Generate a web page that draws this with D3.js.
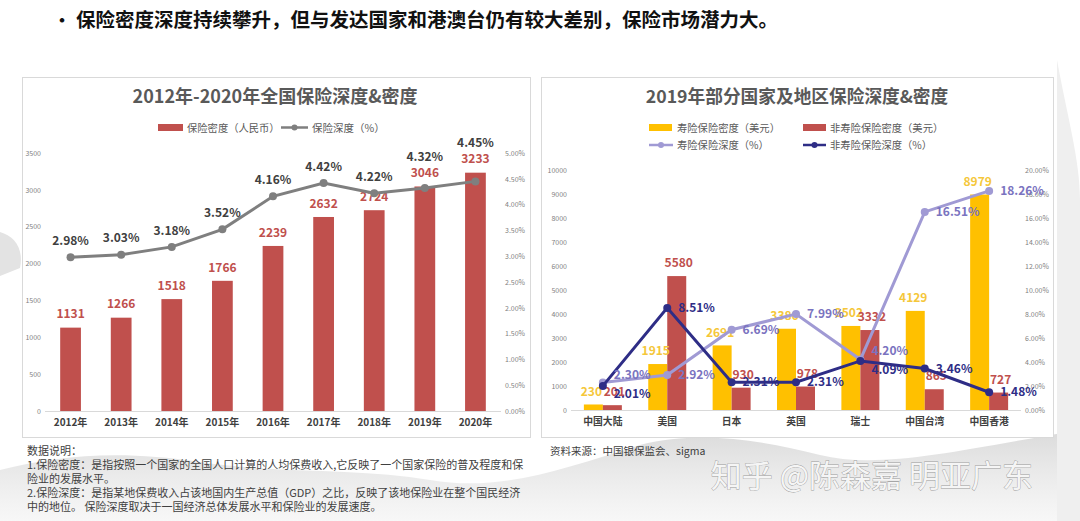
<!DOCTYPE html>
<html><head><meta charset="utf-8">
<script src="https://cdn.jsdelivr.net/npm/d3@7"></script>
<style>
html,body{margin:0;padding:0;background:#fff;}
svg{display:block;font-family:"Noto Sans CJK SC","Noto Sans",sans-serif;}
</style></head>
<body>
<svg id="chart" width="1080" height="521"></svg>
<script>
// ---------- data ----------
const years = ["2012年","2013年","2014年","2015年","2016年","2017年","2018年","2019年","2020年"];
const densityCNY = [1131,1266,1518,1766,2239,2632,2724,3046,3233];
const depthPct = [2.98,3.03,3.18,3.52,4.16,4.42,4.22,4.32,4.45];
const leftTicks = [0,500,1000,1500,2000,2500,3000,3500];
const leftPctTicks = [0,0.5,1,1.5,2,2.5,3,3.5,4,4.5,5];

const regions = ["中国大陆","美国","日本","英国","瑞士","中国台湾","中国香港"];
const lifeDensity = [230,1915,2691,3386,3502,4129,8979];
const nonLifeDensity = [201,5580,930,978,3332,865,727];
const lifeDepth = [2.30,2.92,6.69,7.99,4.20,16.51,18.26];
const nonLifeDepth = [2.01,8.51,2.31,2.31,4.09,3.46,1.48];
const rightTicks = [0,1000,2000,3000,4000,5000,6000,7000,8000,9000,10000];
const rightPctTicks = [0,2,4,6,8,10,12,14,16,18,20];

const headline = "保险密度深度持续攀升，但与发达国家和港澳台仍有较大差别，保险市场潜力大。";
const leftTitle = "2012年-2020年全国保险深度&密度";
const rightTitle = "2019年部分国家及地区保险深度&密度";
const leftLegend = ["保险密度（人民币）","保险深度（%）"];
const rightLegend = ["寿险保险密度（美元）","非寿险保险密度（美元）","寿险保险深度（%）","非寿险保险深度（%）"];
const noteLines = ["数据说明：",
 "1.保险密度：是指按照一个国家的全国人口计算的人均保费收入,它反映了一个国家保险的普及程度和保",
 "险业的发展水平。",
 "2.保险深度：是指某地保费收入占该地国内生产总值（GDP）之比，反映了该地保险业在整个国民经济",
 "中的地位。 保险深度取决于一国经济总体发展水平和保险业的发展速度。"];
const sourceText = "资料来源：中国银保监会、sigma";
const watermark = "知乎 @陈森嘉 明亚广东";

// ---------- styles ----------
const RED = "#c0504d", YEL = "#ffc000", GRAY_LINE = "#7f7f7f";
const LIFE_LINE = "#a09ad4", NONLIFE_LINE = "#2e2d86";
const FONT = "\"Noto Sans CJK SC\",\"Noto Sans\",sans-serif";
const svg = d3.select("#chart");

// background wash
const defs = svg.append("defs");
const g1 = defs.append("linearGradient").attr("id","mt").attr("x1",0).attr("y1",0).attr("x2",0).attr("y2",1);
g1.append("stop").attr("offset","0%").attr("stop-color","#d6d6d6").attr("stop-opacity",0.9);
g1.append("stop").attr("offset","100%").attr("stop-color","#f2f2f2").attr("stop-opacity",0.6);
const bg = svg.append("g");
bg.append("path").attr("d","M0,470 C60,455 120,450 200,462 C280,474 360,468 430,480 C500,492 560,470 640,445 C700,430 760,440 820,455 C880,470 960,450 1080,430 L1080,521 L0,521 Z").attr("fill","url(#mt)");
bg.append("path").attr("d","M0,232 C14,236 24,248 20,268 L0,276 Z").attr("fill","#e3e3e3");
bg.append("path").attr("d","M1057,60 C1068,120 1080,160 1080,200 L1080,521 L1057,521 Z").attr("fill","#efefef");

// headline
svg.append("text").attr("x",53).attr("y",27).attr("font-size",18).attr("font-weight","bold").attr("fill","#111").text("•");
svg.append("text").attr("x",76).attr("y",27).attr("font-size",19.5).attr("font-weight","bold").attr("fill","#111").text(headline);

// panels
svg.append("rect").attr("x",22.5).attr("y",77.5).attr("width",508).attr("height",360).attr("fill","#fff").attr("stroke","#d9d9d9");
svg.append("rect").attr("x",541.5).attr("y",77.5).attr("width",512).attr("height",360).attr("fill","#fff").attr("stroke","#d9d9d9");

function styleAxis(g, size, color, weight){
  g.select(".domain").remove();
  g.selectAll("text").attr("font-size",size).attr("fill",color).attr("font-weight",weight||"normal").attr("font-family",FONT);
}
const intFmt = d3.format("d");

// ================= LEFT CHART =================
{
  const L = svg.append("g");
  L.append("text").attr("x",275).attr("y",103).attr("text-anchor","middle").attr("font-size",18).attr("font-weight","bold").attr("fill","#595959").text(leftTitle);
  // legend
  L.append("rect").attr("x",158).attr("y",124).attr("width",25).attr("height",7).attr("fill",RED);
  L.append("text").attr("x",187).attr("y",131.5).attr("font-size",10.3).attr("fill","#595959").text(leftLegend[0]);
  L.append("line").attr("x1",281).attr("x2",308).attr("y1",127.5).attr("y2",127.5).attr("stroke",GRAY_LINE).attr("stroke-width",2.5);
  L.append("circle").attr("cx",294.5).attr("cy",127.5).attr("r",3).attr("fill",GRAY_LINE);
  L.append("text").attr("x",312).attr("y",131.5).attr("font-size",10.5).attr("fill","#595959").text(leftLegend[1]);

  const x = d3.scaleBand().domain(years).range([45,501]).paddingInner(0.59).paddingOuter(0.3);
  const y = d3.scaleLinear().domain([0,3500]).range([411,153]);
  const yP = d3.scaleLinear().domain([0,5]).range([411,153]);

  L.append("line").attr("x1",45).attr("x2",501).attr("y1",411.5).attr("y2",411.5).attr("stroke","#d9d9d9");
  styleAxis(L.append("g").attr("transform","translate(45,0)").call(d3.axisLeft(y).tickValues(leftTicks).tickSize(0).tickPadding(4).tickFormat(intFmt)), 7, "#7f7f7f");
  styleAxis(L.append("g").attr("transform","translate(501,0)").call(d3.axisRight(yP).tickValues(leftPctTicks).tickSize(0).tickPadding(4).tickFormat(d=>d.toFixed(2)+"%")), 7, "#7f7f7f");
  styleAxis(L.append("g").attr("transform","translate(0,411)").call(d3.axisBottom(x).tickSize(0).tickPadding(8)), 10, "#404040", "bold");

  L.selectAll(".bar").data(densityCNY).join("rect").attr("class","bar")
    .attr("x",(d,i)=>x(years[i])).attr("width",x.bandwidth())
    .attr("y",d=>y(d)).attr("height",d=>y(0)-y(d)).attr("fill",RED);
  const barLabY = d=>y(d)-13.5;
  L.selectAll(".bl").data(densityCNY).join("text").attr("class","bl")
    .attr("x",(d,i)=>x(years[i])+x.bandwidth()/2).attr("y",barLabY).attr("dy","0.35em")
    .attr("text-anchor","middle").attr("font-size",12).attr("font-weight","bold").attr("fill",RED).text(d=>d);

  const cx = (i)=>x(years[i])+x.bandwidth()/2;
  const line = d3.line().x((d,i)=>cx(i)).y(d=>yP(d));
  L.append("path").datum(depthPct).attr("d",line).attr("fill","none").attr("stroke",GRAY_LINE).attr("stroke-width",3);
  L.selectAll(".pt").data(depthPct).join("circle").attr("class","pt").attr("cx",(d,i)=>cx(i)).attr("cy",d=>yP(d)).attr("r",4).attr("fill",GRAY_LINE);
  // percent label above point; lifted above the bar label when they would collide
  L.selectAll(".pl").data(depthPct).join("text").attr("class","pl")
    .attr("x",(d,i)=>cx(i)).attr("y",(d,i)=>Math.min(yP(d)-16.5, barLabY(densityCNY[i])-16))
    .attr("dy","0.35em")
    .attr("text-anchor","middle").attr("font-size",12).attr("font-weight","bold").attr("fill","#404040").text(d=>d.toFixed(2)+"%");
}

// ================= RIGHT CHART =================
{
  const R = svg.append("g");
  R.append("text").attr("x",797).attr("y",103).attr("text-anchor","middle").attr("font-size",17.7).attr("font-weight","bold").attr("fill","#595959").text(rightTitle);
  // legend
  R.append("rect").attr("x",649).attr("y",124).attr("width",23).attr("height",7).attr("fill",YEL);
  R.append("text").attr("x",677).attr("y",131.5).attr("font-size",10.3).attr("fill","#595959").text(rightLegend[0]);
  R.append("rect").attr("x",803).attr("y",124).attr("width",23).attr("height",7).attr("fill",RED);
  R.append("text").attr("x",830).attr("y",131.5).attr("font-size",10.3).attr("fill","#595959").text(rightLegend[1]);
  R.append("line").attr("x1",649).attr("x2",673).attr("y1",145).attr("y2",145).attr("stroke",LIFE_LINE).attr("stroke-width",2.5);
  R.append("circle").attr("cx",661).attr("cy",145).attr("r",3).attr("fill",LIFE_LINE);
  R.append("text").attr("x",677).attr("y",149).attr("font-size",10.3).attr("fill","#595959").text(rightLegend[2]);
  R.append("line").attr("x1",803).attr("x2",826).attr("y1",145).attr("y2",145).attr("stroke",NONLIFE_LINE).attr("stroke-width",2.5);
  R.append("circle").attr("cx",814.5).attr("cy",145).attr("r",3).attr("fill",NONLIFE_LINE);
  R.append("text").attr("x",830).attr("y",149).attr("font-size",10.3).attr("fill","#595959").text(rightLegend[3]);

  const x = d3.scaleBand().domain(regions).range([571,1021]).paddingInner(0.41).paddingOuter(0.2);
  const x1 = d3.scaleBand().domain(["life","nonlife"]).range([0,x.bandwidth()]);
  const y = d3.scaleLinear().domain([0,10000]).range([410,170]);
  const yP = d3.scaleLinear().domain([0,20]).range([410,170]);

  R.append("line").attr("x1",571).attr("x2",1021).attr("y1",410.5).attr("y2",410.5).attr("stroke","#d9d9d9");
  styleAxis(R.append("g").attr("transform","translate(571,0)").call(d3.axisLeft(y).tickValues(rightTicks).tickSize(0).tickPadding(4).tickFormat(intFmt)), 7, "#7f7f7f");
  styleAxis(R.append("g").attr("transform","translate(1021,0)").call(d3.axisRight(yP).tickValues(rightPctTicks).tickSize(0).tickPadding(4).tickFormat(d=>d.toFixed(2)+"%")), 7, "#7f7f7f");
  styleAxis(R.append("g").attr("transform","translate(0,410)").call(d3.axisBottom(x).tickSize(0).tickPadding(8)), 9.8, "#404040", "bold");

  const series = [{key:"life",vals:lifeDensity,color:YEL,lab:"#f5c73a",shift:-2},{key:"nonlife",vals:nonLifeDensity,color:RED,lab:RED,shift:2}];
  series.forEach(s=>{
    R.selectAll(".b"+s.key).data(s.vals).join("rect").attr("class","b"+s.key)
      .attr("x",(d,i)=>x(regions[i])+x1(s.key)).attr("width",x1.bandwidth())
      .attr("y",d=>y(d)).attr("height",d=>y(0)-y(d)).attr("fill",s.color);
  });
  series.forEach(s=>{
    R.selectAll(".t"+s.key).data(s.vals).join("text").attr("class","t"+s.key)
      .attr("x",(d,i)=>x(regions[i])+x1(s.key)+x1.bandwidth()/2+s.shift).attr("y",d=>y(d)-13).attr("dy","0.35em")
      .attr("text-anchor","middle").attr("font-size",12).attr("font-weight","bold").attr("fill",s.lab).text(d=>d);
  });

  const cx = (i)=>x(regions[i])+x.bandwidth()/2;
  const lines = [{vals:lifeDepth,color:LIFE_LINE,lab:"#7a73c0"},{vals:nonLifeDepth,color:NONLIFE_LINE,lab:"#2e2d86"}];
  lines.forEach((s,k)=>{
    const line = d3.line().x((d,i)=>cx(i)).y(d=>yP(d));
    R.append("path").datum(s.vals).attr("d",line).attr("fill","none").attr("stroke",s.color).attr("stroke-width",3);
    R.selectAll(".p"+k).data(s.vals).join("circle").attr("class","p"+k).attr("cx",(d,i)=>cx(i)).attr("cy",d=>yP(d)).attr("r",4).attr("fill",s.color);
  });
  // label y positions: right of the point, spread apart when the two series collide
  const labY = lines.map(s=>s.vals.map(v=>yP(v)));
  regions.forEach((r,i)=>{
    const a = labY[0][i], b = labY[1][i];
    if (Math.abs(a-b) < 17){
      const mid = (a+b)/2, up = lifeDepth[i] >= nonLifeDepth[i] ? 0 : 1;
      labY[up][i] = mid-9.5; labY[1-up][i] = mid+9.5;
    }
  });
  lines.forEach((s,k)=>{
    R.selectAll(".l"+k).data(s.vals).join("text").attr("class","l"+k)
      .attr("x",(d,i)=>cx(i)+11).attr("y",(d,i)=>labY[k][i]).attr("dy","0.35em")
      .attr("font-size",12).attr("font-weight","bold").attr("fill",s.lab).text(d=>d.toFixed(2)+"%");
  });
}

// notes
const notes = svg.append("g");
notes.selectAll("text").data(noteLines).join("text")
  .attr("x",27).attr("y",(d,i)=>455+i*14).attr("font-size",11).attr("fill","#404040").text(d=>d);
svg.append("text").attr("x",550).attr("y",455).attr("font-size",10.5).attr("fill","#404040").text(sourceText);

// watermark
svg.append("text").attr("x",1033).attr("y",487).attr("text-anchor","end").attr("font-size",31)
  .attr("fill","#f5f5f5").attr("stroke","#9a9a9a").attr("stroke-width",0.8).attr("paint-order","stroke").text(watermark);
</script>
</body></html>
